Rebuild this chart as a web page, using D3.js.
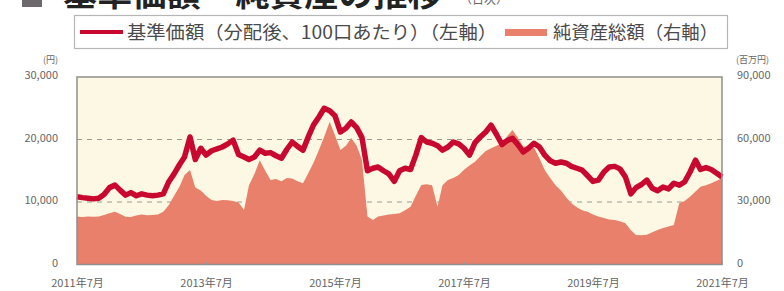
<!DOCTYPE html>
<html>
<head>
<meta charset="utf-8">
<script src="https://cdn.jsdelivr.net/npm/d3@7"></script>
<style>
  html, body { margin: 0; padding: 0; background: #fff; }
  svg { display: block; font-family: "Noto Sans CJK JP", "Noto Sans", sans-serif; }
</style>
</head>
<body>
<svg id="chart" width="784" height="291"></svg>
<script>
// monthly readings, starting 2011-07
const startMonth = new Date(2011, 6, 1);

// 基準価額 (円)
const navValues = [
  10850, 10700, 10600, 10500, 10600, 11200, 12300, 12700, 11900, 11100,
  11500, 11000, 11300, 11100, 11000, 11100, 11300, 13200, 14500, 16000,
  17200, 20400, 16800, 18600, 17500, 18200, 18500, 18800, 19300, 19900,
  17600, 17200, 16800, 17200, 18300, 17800, 17900, 17400, 17000, 18400,
  19600, 18900, 18300, 20500, 22300, 23600, 25000, 24600, 23800, 21200,
  21800, 22800, 21900, 20300, 15000, 15400, 15600, 15000, 14500, 13300,
  15000, 15400, 15200, 17500, 20300, 19600, 19400, 19000, 18300, 18800,
  19600, 19300, 18600, 17500, 19500, 20400, 21200, 22300, 20800, 19200,
  19800, 20200, 19200, 18000, 18600, 19400, 18800, 17500, 16600, 16200,
  16400, 16200, 15700, 15400, 15100, 14200, 13300, 13500, 14800, 15600,
  15700, 15300, 14000, 11300, 12300, 12800, 13500, 12200, 11800, 12400,
  12100, 13000, 12700, 13200, 14800, 16700, 15200, 15500, 15200, 14600,
  14000
];

// 純資産総額 (百万円)
const assetValues = [
  22900, 22800, 23000, 22900, 23100, 23800, 24600, 25300, 24200, 22900,
  22800, 23500, 24000, 23600, 23800, 24000, 25300, 28500, 33000, 37500,
  43000, 45400, 37000, 35500, 33000, 31000, 30500, 31000, 30800, 30500,
  29800, 26200, 38000, 43500, 50000, 45000, 40600, 41000, 40000, 41500,
  41300, 40000, 39000, 44000, 48700, 55000, 61300, 68500, 62000, 55000,
  57000, 60700, 57000, 50200, 23000, 21400, 23000, 23500, 24000, 24200,
  24600, 26000, 27700, 33000, 38200, 38500, 38000, 27700, 38000, 40600,
  41500, 43000, 45500, 47500, 49300, 52000, 54500, 55800, 57000, 58200,
  61500, 64600, 61000, 56600, 56400, 56200, 51000, 45400, 41500, 38000,
  35500, 32000, 29400, 27500, 26000, 25300, 24000, 23000, 22300, 21600,
  21400, 20800, 19800, 16500, 14200, 14000, 14300, 15500, 16600, 17500,
  18200, 19000, 29400, 30500, 32500, 35000, 37300, 38000, 39000, 40200,
  41400
];

const leftTicks = [0, 10000, 20000, 30000];
const rightTicks = [0, 30000, 60000, 90000];
const gridTicks = [10000, 20000];
const xTickDates = [
  new Date(2011, 6, 1), new Date(2013, 6, 1), new Date(2015, 6, 1),
  new Date(2017, 6, 1), new Date(2019, 6, 1), new Date(2021, 6, 1)
];
const xTickLabels = ['2011年7月', '2013年7月', '2015年7月', '2017年7月', '2019年7月', '2021年7月'];

const navData = navValues.map((v, i) => ({ date: d3.timeMonth.offset(startMonth, i), value: v }));
const assetData = assetValues.map((v, i) => ({ date: d3.timeMonth.offset(startMonth, i), value: v }));

const svg = d3.select('#chart');
const plot = { left: 77, right: 722, top: 77, bottom: 264.5 };

const x = d3.scaleTime()
  .domain([new Date(2011, 6, 1), new Date(2021, 6, 1)])
  .range([plot.left, plot.right]);
const yLeft = d3.scaleLinear().domain([0, 30000]).range([plot.bottom, plot.top]);
const yRight = d3.scaleLinear().domain([0, 90000]).range([plot.bottom, plot.top]);

// title (cut by the top edge, as in the source)
svg.append('rect')
  .attr('x', 22).attr('y', -14).attr('width', 20).attr('height', 21)
  .attr('fill', '#6d686c');
svg.append('text')
  .attr('x', 63).attr('y', 6)
  .attr('font-size', 32).attr('font-weight', 'bold')
  .attr('textLength', 379).attr('lengthAdjust', 'spacingAndGlyphs')
  .attr('fill', '#222')
  .text('基準価額・純資産の推移');
svg.append('text')
  .attr('x', 460).attr('y', 4)
  .attr('font-size', 12).attr('fill', '#666')
  .text('（日次）');

// legend
const legend = svg.append('g');
legend.append('rect')
  .attr('x', 74.5).attr('y', 15.5).attr('width', 653).attr('height', 33)
  .attr('fill', '#fff').attr('stroke', '#b5b5b5').attr('stroke-width', 1.2);
legend.append('line')
  .attr('x1', 80).attr('x2', 123).attr('y1', 32).attr('y2', 32)
  .attr('stroke', '#c9082f').attr('stroke-width', 4);
legend.append('text')
  .attr('x', 127).attr('y', 38.5)
  .attr('font-size', 18).attr('fill', '#4a4a4a')
  .attr('textLength', 370).attr('lengthAdjust', 'spacingAndGlyphs')
  .text('基準価額（分配後、100口あたり）（左軸）');
legend.append('rect')
  .attr('x', 505).attr('y', 29).attr('width', 42).attr('height', 7)
  .attr('fill', '#e8806b');
legend.append('text')
  .attr('x', 553).attr('y', 38.5)
  .attr('font-size', 18).attr('fill', '#4a4a4a')
  .attr('textLength', 165).attr('lengthAdjust', 'spacingAndGlyphs')
  .text('純資産総額（右軸）');

// plot background
svg.append('rect')
  .attr('x', plot.left).attr('y', plot.top)
  .attr('width', plot.right - plot.left).attr('height', plot.bottom - plot.top)
  .attr('fill', '#fdf8e3');

// grid
svg.append('g').selectAll('line')
  .data(gridTicks)
  .join('line')
  .attr('x1', plot.left).attr('x2', plot.right)
  .attr('y1', d => yLeft(d)).attr('y2', d => yLeft(d))
  .attr('stroke', '#9a9a94').attr('stroke-width', 1.2)
  .attr('stroke-dasharray', '5,5');

// net assets area
const area = d3.area()
  .x(d => x(d.date))
  .y0(yRight(0))
  .y1(d => yRight(d.value));
svg.append('path')
  .datum(assetData)
  .attr('d', area)
  .attr('fill', '#e8806b');

// nav line
const line = d3.line()
  .x(d => x(d.date))
  .y(d => yLeft(d.value));
svg.append('path')
  .datum(navData)
  .attr('d', line)
  .attr('fill', 'none')
  .attr('stroke', '#c9082f')
  .attr('stroke-width', 5.5)
  .attr('stroke-linejoin', 'round');

// frame
svg.append('rect')
  .attr('x', plot.left).attr('y', plot.top)
  .attr('width', plot.right - plot.left).attr('height', plot.bottom - plot.top)
  .attr('fill', 'none').attr('stroke', '#8f8f8f').attr('stroke-width', 1.5);

// axes
const fmt = d3.format(',');
const leftAxis = d3.axisLeft(yLeft).tickValues(leftTicks).tickFormat(fmt).tickSize(0).tickPadding(19);
const rightAxis = d3.axisRight(yRight).tickValues(rightTicks).tickFormat(fmt).tickSize(0).tickPadding(15);
const bottomAxis = d3.axisBottom(x).tickValues(xTickDates)
  .tickFormat((d, i) => xTickLabels[i]).tickSize(-3).tickPadding(15);

function styleAxis(g) {
  g.select('.domain').remove();
  g.selectAll('text').attr('fill', '#666').attr('font-size', 11)
    .attr('font-family', '"Noto Sans CJK JP", sans-serif');
  g.selectAll('line').attr('stroke', '#999');
}

svg.append('g')
  .attr('transform', `translate(${plot.left},-2)`)
  .call(leftAxis).call(styleAxis);
svg.append('g')
  .attr('transform', `translate(${plot.right},-2)`)
  .call(rightAxis).call(styleAxis);
svg.append('g')
  .attr('transform', `translate(0,${plot.bottom})`)
  .call(bottomAxis).call(styleAxis);

// units
svg.append('text')
  .attr('x', 58).attr('y', 63).attr('text-anchor', 'end')
  .attr('font-size', 9).attr('fill', '#666').text('(円)');
svg.append('text')
  .attr('x', 736).attr('y', 63)
  .attr('font-size', 9).attr('fill', '#666').text('(百万円)');
</script>
</body>
</html>
